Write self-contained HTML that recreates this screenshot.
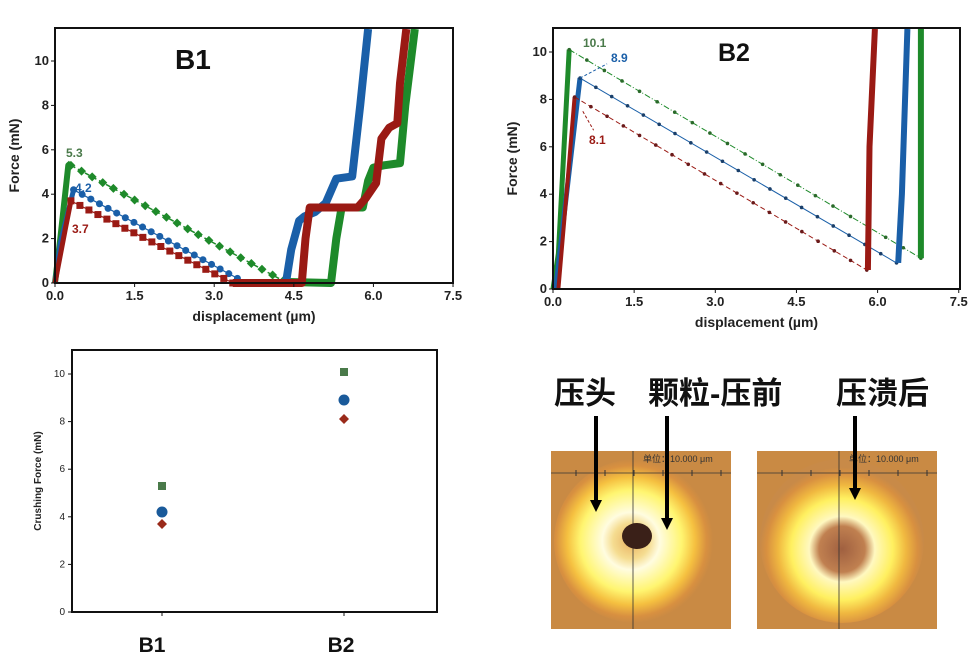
<!DOCTYPE html>
<html><head><meta charset="utf-8"><style>
body{margin:0;background:#fff;width:975px;height:667px;overflow:hidden;font-family:"Liberation Sans","Noto Sans CJK SC",sans-serif}
svg{position:absolute;left:0;top:0}
</style></head><body>
<svg id="s" width="975" height="667" xmlns="http://www.w3.org/2000/svg" font-family="Liberation Sans, Noto Sans CJK SC, sans-serif">
<defs>
<radialGradient id="g1" cx="0.47" cy="0.5" r="0.5">
<stop offset="0" stop-color="#e8b060"/><stop offset="0.22" stop-color="#f5dc90"/><stop offset="0.35" stop-color="#fffce0"/><stop offset="0.62" stop-color="#fff570"/><stop offset="0.78" stop-color="#f5c040"/><stop offset="0.92" stop-color="#d89040"/><stop offset="1" stop-color="#c98a44"/>
</radialGradient>
<radialGradient id="g2" cx="0.5" cy="0.55" r="0.5">
<stop offset="0" stop-color="#a06040"/><stop offset="0.28" stop-color="#c08050"/><stop offset="0.4" stop-color="#fff8c0"/><stop offset="0.62" stop-color="#fff060"/><stop offset="0.78" stop-color="#f0b840"/><stop offset="0.92" stop-color="#d89040"/><stop offset="1" stop-color="#c88a48"/>
</radialGradient>
</defs>
<g id="c"></g>
</svg>
<script>
var o='';
function pl(pts,X,Y,col,w,dash){var s=pts.map(function(p){return X(p[0]).toFixed(1)+','+Y(p[1]).toFixed(1)}).join(' ');o+='<polyline points="'+s+'" fill="none" stroke="'+col+'" stroke-width="'+w+'" stroke-linejoin="round"'+(dash?' stroke-dasharray="'+dash+'"':'')+'/>';}
function marks(a,b,n,X,Y,col,shape,sz){for(var i=0;i<=n;i++){var t=i/n,x=X(a[0]+(b[0]-a[0])*t),y=Y(a[1]+(b[1]-a[1])*t);
if(shape=='c')o+='<circle cx="'+x+'" cy="'+y+'" r="'+sz+'" fill="'+col+'"/>';
else if(shape=='s')o+='<rect x="'+(x-sz)+'" y="'+(y-sz)+'" width="'+2*sz+'" height="'+2*sz+'" fill="'+col+'"/>';
else o+='<polygon points="'+x+','+(y-sz-1)+' '+(x+sz+1)+','+y+' '+x+','+(y+sz+1)+' '+(x-sz-1)+','+y+'" fill="'+col+'"/>';}}
function axes(L,R,T,B,X,Y,ymax){
o+='<rect x="'+L+'" y="'+T+'" width="'+(R-L)+'" height="'+(B-T)+'" fill="none" stroke="#111" stroke-width="2"/>';
['0.0','1.5','3.0','4.5','6.0','7.5'].forEach(function(v){var x=X(+v);o+='<line x1="'+x+'" y1="'+B+'" x2="'+x+'" y2="'+(B+4)+'" stroke="#111"/><text x="'+x+'" y="'+(B+17)+'" font-size="13" font-weight="bold" text-anchor="middle" fill="#222">'+v+'</text>';});
[0,2,4,6,8,10].forEach(function(v){var y=Y(v);o+='<line x1="'+(L-4)+'" y1="'+y+'" x2="'+L+'" y2="'+y+'" stroke="#111"/><text x="'+(L-6)+'" y="'+(y+4)+'" font-size="13" font-weight="bold" text-anchor="end" fill="#222">'+v+'</text>';});
o+='<text x="'+((L+R)/2)+'" y="'+(B+38)+'" font-size="14" font-weight="bold" text-anchor="middle" fill="#222">displacement (µm)</text>';
o+='<text transform="translate('+(L-36)+','+((T+B)/2)+') rotate(-90)" font-size="14" font-weight="bold" text-anchor="middle" fill="#222">Force (mN)</text>';}
var G='#1e8a2a',Bl='#1a5fa8',Rd='#9a1a14';
var X1=function(v){return 55+53.07*v},Y1=function(f){return Math.max(29,283-22.2*f)};
pl([[0,0],[0.1,2],[0.25,5.3],[0.3,5.4]],X1,Y1,G,6);
pl([[0.3,5.3],[4.3,0.1]],X1,Y1,G,1.5,'5,3');marks([0.3,5.3],[4.3,0.1],20,X1,Y1,G,'d',3.5);
pl([[4.3,0.05],[5.2,0],[5.3,2],[5.4,3.4],[5.8,3.4],[5.9,4.6],[6.0,5.2],[6.2,5.3],[6.5,5.4],[6.6,8],[6.78,11.6]],X1,Y1,G,8);
pl([[0,0],[0.1,1.8],[0.35,4.2]],X1,Y1,Bl,5);
pl([[0.35,4.2],[3.6,0]],X1,Y1,Bl,1.2);marks([0.35,4.2],[3.6,0],20,X1,Y1,Bl,'c',3.5);
pl([[4.35,0],[4.45,1.5],[4.6,2.8],[4.7,3],[4.9,3.2],[5.1,3.6],[5.3,4.7],[5.6,4.8],[5.75,8],[5.9,11.6]],X1,Y1,Bl,8);
pl([[0,0],[0.2,2.5],[0.3,3.7]],X1,Y1,Rd,5);
pl([[0.3,3.7],[3.35,0]],X1,Y1,Rd,1.2);marks([0.3,3.7],[3.35,0],18,X1,Y1,Rd,'s',3.5);
pl([[3.35,0],[4.65,0],[4.72,2],[4.8,3.4],[5.7,3.4],[5.85,3.8],[6.05,4.5],[6.15,6.5],[6.3,7],[6.45,7.2],[6.5,9],[6.62,11.6]],X1,Y1,Rd,8);
axes(55,453,28,283,X1,function(f){return 283-22.2*f});
o+='<text x="175" y="69" font-size="28" font-weight="900" fill="#111">B1</text>';
o+='<text x="66" y="157" font-size="12" font-weight="bold" fill="#4a7a4a">5.3</text><text x="75" y="192" font-size="12" font-weight="bold" fill="'+Bl+'">4.2</text><text x="72" y="233" font-size="12" font-weight="bold" fill="'+Rd+'">3.7</text>';
var X2=function(v){return 553+54.1*v},Y2=function(f){return Math.max(29,289-23.7*f)};
pl([[0,0],[0.1,1.5],[0.3,10.1]],X2,Y2,G,5);
pl([[0.3,10.1],[6.8,1.3]],X2,Y2,G,1,'6,2,1,2');marks([0.3,10.1],[6.8,1.3],20,X2,Y2,'#2a6a2a','c',1.8);
pl([[6.8,1.3],[6.8,11.2]],X2,Y2,G,6);
pl([[0.05,0],[0.2,3],[0.5,8.9]],X2,Y2,Bl,5);
pl([[0.5,8.9],[6.35,1.1]],X2,Y2,Bl,1);marks([0.5,8.9],[6.35,1.1],20,X2,Y2,'#1a3f6a','c',1.8);
pl([[6.38,1.1],[6.45,4],[6.55,11.2]],X2,Y2,Bl,6);
pl([[0.1,0],[0.25,4],[0.4,8.1]],X2,Y2,Rd,4);
pl([[0.4,8.1],[5.8,0.8]],X2,Y2,Rd,1,'5,3');marks([0.4,8.1],[5.8,0.8],18,X2,Y2,'#6a1a1a','c',1.8);
pl([[5.82,0.8],[5.85,6],[5.95,11.2]],X2,Y2,Rd,6);
pl([[0.5,8.9],[1.0,9.5]],X2,Y2,Bl,1,'3,2');pl([[0.55,7.5],[0.75,6.7]],X2,Y2,Rd,1,'3,2');
axes(553,960,28,289,X2,function(f){return 289-23.7*f});
o+='<text x="718" y="61" font-size="25" font-weight="900" fill="#111">B2</text>';
o+='<text x="583" y="47" font-size="12" font-weight="bold" fill="#4a7a4a">10.1</text><text x="611" y="62" font-size="12" font-weight="bold" fill="'+Bl+'">8.9</text><text x="589" y="144" font-size="12" font-weight="bold" fill="'+Rd+'">8.1</text>';
o+='<rect x="72" y="350" width="365" height="262" fill="none" stroke="#111" stroke-width="2"/>';
[0,2,4,6,8,10].forEach(function(v){var y=612-23.8*v;o+='<line x1="68" y1="'+y+'" x2="72" y2="'+y+'" stroke="#111"/><text x="65" y="'+(y+3)+'" font-size="10" text-anchor="end" fill="#222">'+v+'</text>';});
[162,344].forEach(function(x){o+='<line x1="'+x+'" y1="612" x2="'+x+'" y2="616" stroke="#111"/>';});
o+='<text transform="translate(41,481) rotate(-90)" font-size="10" font-weight="bold" text-anchor="middle" fill="#222">Crushing Force (mN)</text>';
o+='<text x="152" y="652" font-size="21" font-weight="bold" text-anchor="middle" fill="#111">B1</text><text x="341" y="652" font-size="21" font-weight="bold" text-anchor="middle" fill="#111">B2</text>';
o+='<rect x="158" y="482" width="8" height="8" fill="#4a7a4a"/><circle cx="162" cy="512" r="5.5" fill="#1a5a9a"/><polygon points="162,519 167,524 162,529 157,524" fill="#9a2a1a"/>';
o+='<rect x="340" y="368" width="8" height="8" fill="#4a7a4a"/><circle cx="344" cy="400" r="5.5" fill="#1a5a9a"/><polygon points="344,414 349,419 344,424 339,419" fill="#9a2a1a"/>';
function img(x,grad,dot){o+='<rect x="'+x+'" y="451" width="180" height="178" fill="#c98a44"/><circle cx="'+(x+85)+'" cy="'+(451+90)+'" r="82" fill="url(#'+grad+')"/>';
o+='<line x1="'+x+'" y1="473" x2="'+(x+180)+'" y2="473" stroke="#333" stroke-width="0.8"/><line x1="'+(x+82)+'" y1="451" x2="'+(x+82)+'" y2="629" stroke="#333" stroke-width="0.8"/>';
for(var i=0;i<6;i++){o+='<line x1="'+(x+25+i*29)+'" y1="470" x2="'+(x+25+i*29)+'" y2="476" stroke="#333"/>';}
o+='<text x="'+(x+92)+'" y="462" font-size="9" fill="#333">单位：10.000 μm</text>';
if(dot)o+='<ellipse cx="'+(x+86)+'" cy="536" rx="15" ry="13" fill="#3a2018"/>';}
img(551,'g1',1);img(757,'g2',0);
o+='<text x="554" y="404" font-size="31" font-weight="bold" fill="#111">压头</text><text x="648" y="404" font-size="31" font-weight="bold" fill="#111">颗粒-压前</text><text x="836" y="404" font-size="31" font-weight="bold" fill="#111">压溃后</text>';
function arr(x,y1,y2){o+='<line x1="'+x+'" y1="'+y1+'" x2="'+x+'" y2="'+(y2-10)+'" stroke="#000" stroke-width="4"/><polygon points="'+(x-6)+','+(y2-12)+' '+(x+6)+','+(y2-12)+' '+x+','+y2+'" fill="#000"/>';}
arr(596,416,512);arr(667,416,530);arr(855,416,500);
document.getElementById('c').innerHTML=o;
</script>
</body></html>
